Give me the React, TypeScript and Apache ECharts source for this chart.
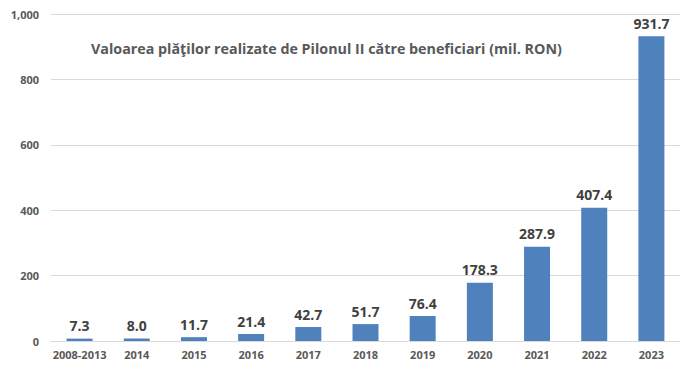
import React, { useEffect, useRef } from "react";
import * as echarts from "echarts";

const categories = ["2008-2013", "2014", "2015", "2016", "2017", "2018", "2019", "2020", "2021", "2022", "2023"];
const values = [7.3, 8.0, 11.7, 21.4, 42.7, 51.7, 76.4, 178.3, 287.9, 407.4, 931.7];
const titleText = "Valoarea plăţilor realizate de Pilonul II către beneficiari (mil. RON)";

export default function App() {
  const ref = useRef<HTMLDivElement>(null);
  useEffect(() => {
    if (!ref.current) return;
    const chart = echarts.init(ref.current, null, { renderer: "svg" });
    chart.setOption({
      animation: false,
      backgroundColor: "#ffffff",
      title: {
        text: titleText,
        left: 86,
        top: 36,
        textStyle: { fontFamily: "Open Sans", fontWeight: "bold", fontSize: 14.3, color: "#595959" },
      },
      grid: { left: 51, right: 18, top: 14, bottom: 28 },
      xAxis: {
        type: "category",
        data: categories,
        axisLine: { show: true, lineStyle: { color: "#d9d9d9" } },
        axisTick: { show: false },
        axisLabel: { interval: 0, fontFamily: "Open Sans", fontWeight: "bold", fontSize: 11, color: "#595959", margin: 8 },
      },
      yAxis: {
        type: "value",
        min: 0,
        max: 1000,
        interval: 200,
        axisLine: { show: false },
        axisTick: { show: false },
        splitLine: { lineStyle: { color: "#d9d9d9" } },
        axisLabel: {
          fontFamily: "Open Sans",
          fontWeight: "bold",
          fontSize: 11,
          color: "#595959",
          margin: 12,
          formatter: (v: number) => v.toLocaleString("en-US"),
        },
      },
      series: [
        {
          type: "bar",
          data: values,
          barWidth: 26,
          itemStyle: { color: "#4f81bd" },
          label: {
            show: true,
            position: "top",
            distance: 6,
            fontFamily: "Open Sans",
            fontWeight: "bold",
            fontSize: 14,
            color: "#404040",
            formatter: (p: any) => p.value.toFixed(1),
          },
        },
      ],
    });
    return () => chart.dispose();
  }, []);
  return <div ref={ref} style={{ width: 698, height: 369, position: "absolute", left: 0, top: 0 }} />;
}
